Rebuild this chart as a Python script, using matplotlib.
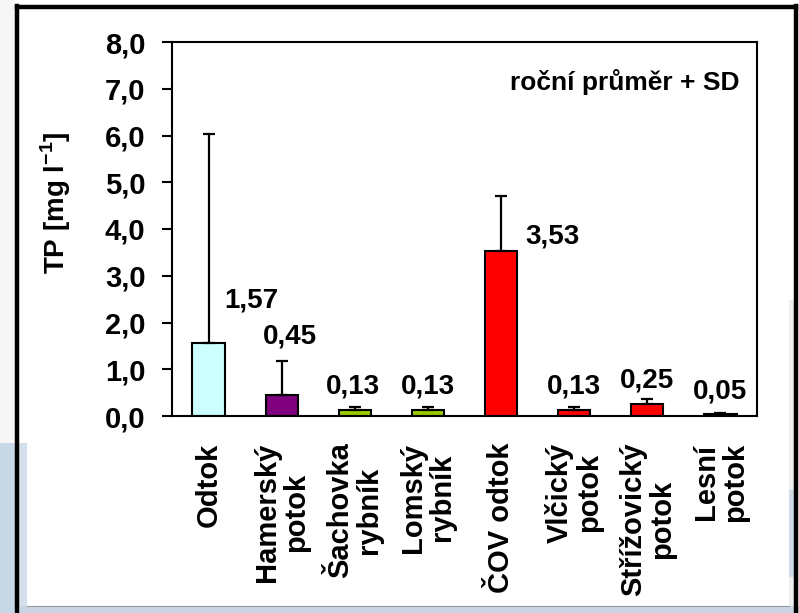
import numpy as np
import matplotlib
matplotlib.use("Agg")
import matplotlib.pyplot as plt
from matplotlib.patches import Rectangle
from matplotlib.lines import Line2D

plt.rcParams['font.family'] = ['Liberation Sans', 'DejaVu Sans']
plt.rcParams['font.weight'] = 'bold'
plt.rcParams['mathtext.fontset'] = 'custom'
plt.rcParams['mathtext.rm'] = 'Liberation Sans:bold'
plt.rcParams['mathtext.bf'] = 'Liberation Sans:bold'

# roční průměr TP a směrodatná odchylka
sites = ["Odtok", "Hamerský\npotok", "Šachovka\nrybník", "Lomský\nrybník",
         "ČOV odtok", "Vlčický\npotok", "Střížovický\npotok", "Lesní\npotok"]
tp_mean = [1.57, 0.45, 0.13, 0.13, 3.53, 0.13, 0.25, 0.05]
tp_sd = [4.46, 0.73, 0.07, 0.07, 1.17, 0.07, 0.11, 0.02]
bar_colors = ["#CCFFFF", "#800080", "#99CC00", "#99CC00",
              "#FF0000", "#FF0000", "#FF0000", "#FF0000"]
yticks = np.arange(0, 8.01, 1.0)

# posun popisků hodnot (dx v kategoriích, y v mg/l)
label_dx = [0.59, 0.11, -0.03, 0.0, 0.70, 0.0, 0.0, 0.0]
label_y = [2.48, 1.69, 0.64, 0.64, 3.85, 0.64, 0.75, 0.53]

W, H = 799, 613
fig = plt.figure(figsize=(W / 100, H / 100), dpi=100)

# pozadí kolem rámečku
def px_rect(x0, y0, x1, y1, color):
    fig.add_artist(Rectangle((x0 / W, 1 - y1 / H), (x1 - x0) / W, (y1 - y0) / H,
                             transform=fig.transFigure, color=color, lw=0, zorder=0))

px_rect(0, 0, 15, 443, "#f6f6f6")
px_rect(0, 443, 15, 613, "#c8d8e6")
px_rect(19, 443, 27, 606, "#d3dfea")
px_rect(15, 606, 799, 613, "#c9d6e2")
px_rect(789, 300, 794, 606, "#efefef")
px_rect(789, 490, 794, 577, "#cfdce8")
fig.add_artist(Line2D([27 / W, 789 / W], [1 - 606 / H, 1 - 606 / H],
                      transform=fig.transFigure, color="#9a9a9a", lw=0.8))

# černý rámeček
for xs, ys in [([17, 17], [6, 613]), ([17, 796], [6.5, 6.5]), ([796, 796], [6, 613])]:
    fig.add_artist(Line2D([x / W for x in xs], [1 - y / H for y in ys],
                          transform=fig.transFigure, color="black", lw=3.2))

ax = fig.add_axes([172 / W, 1 - 416 / H, (757 - 172) / W, (416 - 42) / H])
x = np.arange(len(sites))
ax.bar(x, tp_mean, width=0.44, color=bar_colors, edgecolor="black", linewidth=1.5, zorder=2)
ax.errorbar(x, tp_mean, yerr=[np.zeros(len(tp_sd)), tp_sd], fmt="none",
            ecolor="black", elinewidth=1.6, capsize=4, capthick=1.6, zorder=3)

for i, v in enumerate(tp_mean):
    ax.text(x[i] + label_dx[i], label_y[i], f"{v:.2f}".replace(".", ","),
            ha="center", va="center", fontsize=20, fontweight="bold")

ax.set_xlim(-0.5, len(sites) - 0.5)
ax.set_ylim(0, 8)
ax.set_yticks(yticks)
ax.set_yticklabels([f"{t:.1f}".replace(".", ",") for t in yticks], fontsize=21, fontweight="bold")
ax.tick_params(axis="y", direction="out", length=7, width=1.5, pad=12)
ax.set_xticks(x)
ax.set_xticklabels(sites, rotation=90, fontsize=21, fontweight="bold",
                   ha="center", va="top", multialignment="center", linespacing=1.05)
ax.tick_params(axis="x", length=0, pad=19)
for s in ax.spines.values():
    s.set_linewidth(1.5)

ax.text(0.97, 0.893, "roční průměr + SD", transform=ax.transAxes,
        ha="right", va="center", fontsize=19, fontweight="bold")

fig.text(56 / W, 1 - 203 / H, r"TP [mg l$^{-1}$]", rotation=90,
         ha="center", va="center", fontsize=20, fontweight="bold")

fig.savefig("out.png", dpi=100)
